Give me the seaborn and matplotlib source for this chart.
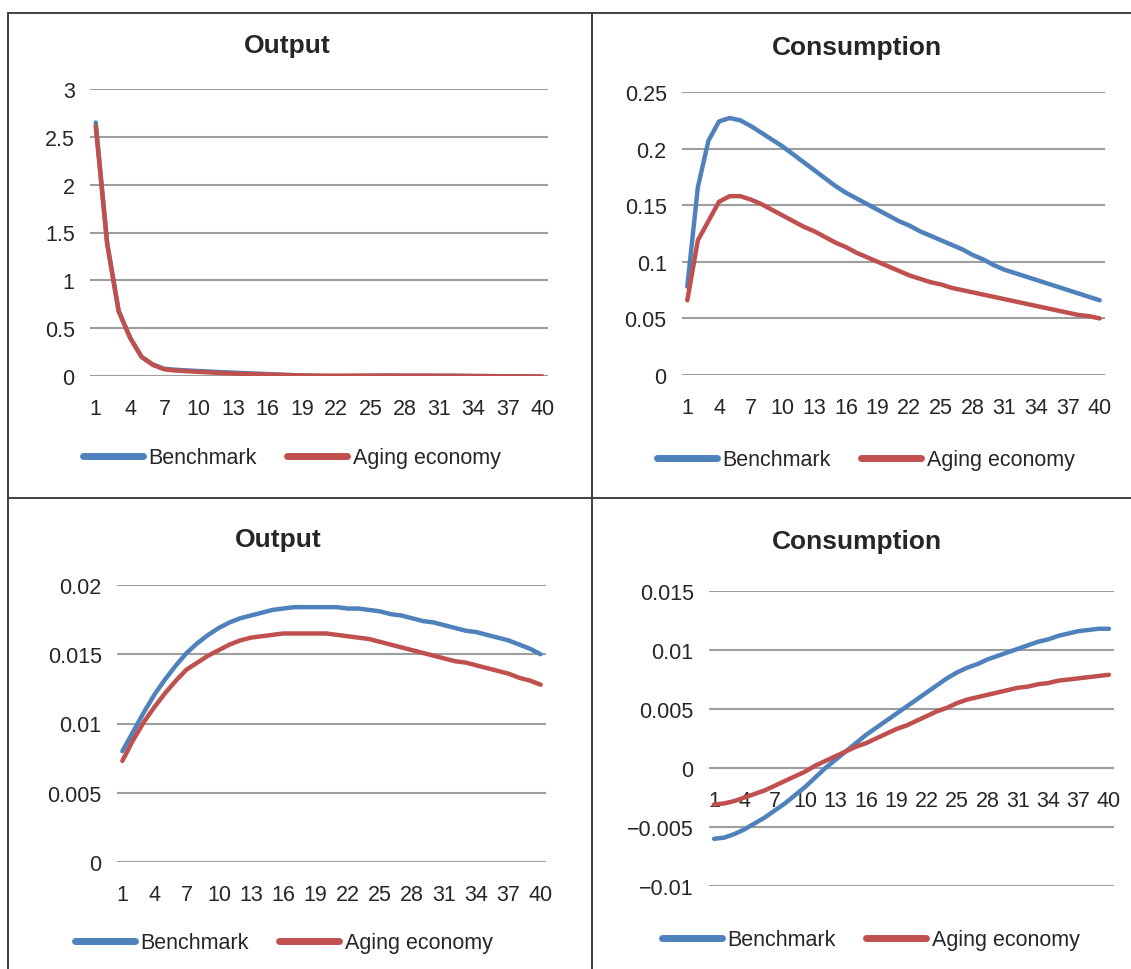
import numpy as np
import pandas as pd
import seaborn as sns
import matplotlib as mpl
from matplotlib import pyplot as plt
from matplotlib.lines import Line2D

sns.set_theme(style="white")
plt.rcParams["font.family"] = ["Liberation Sans", "DejaVu Sans"]

BLUE = "#4F81BD"
RED = "#C0504D"
GRID = "#9E9E9E"
TEXT = "#262626"

PERIODS = list(range(1, 41))
X_TICKS = list(range(1, 41, 3))
SERIES = ["Benchmark", "Aging economy"]

# top left: Output
output_top_bench = [2.65, 1.39, 0.68, 0.40, 0.20, 0.12, 0.075, 0.065, 0.058, 0.052,
                    0.046, 0.040, 0.035, 0.030, 0.025, 0.020, 0.015, 0.010, 0.005, 0.000,
                    -0.003, -0.003, -0.002, 0.000, 0.002, 0.003, 0.003, 0.003, 0.003, 0.003,
                    0.002, 0.002, 0.001, 0.000, -0.001, -0.002, -0.003, -0.004, -0.005, -0.006]
output_top_aging = [2.61, 1.38, 0.68, 0.40, 0.20, 0.115, 0.070, 0.057, 0.050, 0.043,
                    0.037, 0.031, 0.026, 0.022, 0.018, 0.015, 0.012, 0.009, 0.007, 0.005,
                    0.004, 0.004, 0.004, 0.004, 0.004, 0.004, 0.004, 0.003, 0.003, 0.003,
                    0.002, 0.002, 0.001, 0.000, -0.001, -0.002, -0.003, -0.004, -0.004, -0.005]

# top right: Consumption
cons_top_bench = [0.078, 0.166, 0.207, 0.224, 0.227, 0.225, 0.220, 0.214, 0.208, 0.202,
                  0.195, 0.188, 0.181, 0.174, 0.167, 0.161, 0.156, 0.151, 0.146, 0.141,
                  0.136, 0.132, 0.127, 0.123, 0.119, 0.115, 0.111, 0.106, 0.102, 0.097,
                  0.093, 0.090, 0.087, 0.084, 0.081, 0.078, 0.075, 0.072, 0.069, 0.066]
cons_top_aging = [0.066, 0.119, 0.136, 0.153, 0.158, 0.158, 0.155, 0.151, 0.146, 0.141,
                  0.136, 0.131, 0.127, 0.122, 0.117, 0.113, 0.108, 0.104, 0.100, 0.096,
                  0.092, 0.088, 0.085, 0.082, 0.080, 0.077, 0.075, 0.073, 0.071, 0.069,
                  0.067, 0.065, 0.063, 0.061, 0.059, 0.057, 0.055, 0.053, 0.052, 0.050]

# bottom left: Output
output_bot_bench = [0.0080, 0.0094, 0.0108, 0.0121, 0.0132, 0.0142, 0.0151, 0.0158, 0.0164, 0.0169,
                    0.0173, 0.0176, 0.0178, 0.0180, 0.0182, 0.0183, 0.0184, 0.0184, 0.0184, 0.0184,
                    0.0184, 0.0183, 0.0183, 0.0182, 0.0181, 0.0179, 0.0178, 0.0176, 0.0174, 0.0173,
                    0.0171, 0.0169, 0.0167, 0.0166, 0.0164, 0.0162, 0.0160, 0.0157, 0.0154, 0.0150]
output_bot_aging = [0.0073, 0.0088, 0.0101, 0.0112, 0.0122, 0.0131, 0.0139, 0.0144, 0.0149, 0.0153,
                    0.0157, 0.0160, 0.0162, 0.0163, 0.0164, 0.0165, 0.0165, 0.0165, 0.0165, 0.0165,
                    0.0164, 0.0163, 0.0162, 0.0161, 0.0159, 0.0157, 0.0155, 0.0153, 0.0151, 0.0149,
                    0.0147, 0.0145, 0.0144, 0.0142, 0.0140, 0.0138, 0.0136, 0.0133, 0.0131, 0.0128]

# bottom right: Consumption
cons_bot_bench = [-0.0060, -0.0059, -0.0056, -0.0052, -0.0047, -0.0042, -0.0036, -0.0030, -0.0023, -0.0016,
                  -0.0008, 0.0000, 0.0007, 0.0014, 0.0021, 0.0028, 0.0034, 0.0040, 0.0046, 0.0052,
                  0.0058, 0.0064, 0.0070, 0.0076, 0.0081, 0.0085, 0.0088, 0.0092, 0.0095, 0.0098,
                  0.0101, 0.0104, 0.0107, 0.0109, 0.0112, 0.0114, 0.0116, 0.0117, 0.0118, 0.0118]
cons_bot_aging = [-0.0031, -0.0030, -0.0028, -0.0025, -0.0022, -0.0019, -0.0015, -0.0011, -0.0007, -0.0003,
                  0.0002, 0.0006, 0.0010, 0.0014, 0.0018, 0.0021, 0.0025, 0.0029, 0.0033, 0.0036,
                  0.0040, 0.0044, 0.0048, 0.0051, 0.0055, 0.0058, 0.0060, 0.0062, 0.0064, 0.0066,
                  0.0068, 0.0069, 0.0071, 0.0072, 0.0074, 0.0075, 0.0076, 0.0077, 0.0078, 0.0079]

yticks_tl = [0, 0.5, 1, 1.5, 2, 2.5, 3]
yticks_tr = [0, 0.05, 0.1, 0.15, 0.2, 0.25]
yticks_bl = [0, 0.005, 0.01, 0.015, 0.02]
yticks_br = [-0.01, -0.005, 0, 0.005, 0.01, 0.015]

W, H = 1131, 970
fig = plt.figure(figsize=(W / 100, H / 100), dpi=100)


def px_axes(x0, x1, ytop, ybot):
    return fig.add_axes([x0 / W, 1 - ybot / H, (x1 - x0) / W, (ybot - ytop) / H])


def fmt(v):
    return f"{v:g}".replace("-", "\u2212")


panels = [
    # title, bench, aging, yticks, axes box (px), title pos, legend pos, x labels at zero
    ("Output", output_top_bench, output_top_aging, yticks_tl,
     (90, 548, 90, 377), (287, 46), (83, 459), False),
    ("Consumption", cons_top_bench, cons_top_aging, yticks_tr,
     (682, 1105, 93, 376), (857, 48), (657, 461), False),
    ("Output", output_bot_bench, output_bot_aging, yticks_bl,
     (117, 546, 586, 863), (278, 540), (75, 944), False),
    ("Consumption", cons_bot_bench, cons_bot_aging, yticks_br,
     (709, 1114, 592, 887), (857, 542), (662, 941), True),
]

for title, bench, aging, yticks, box, tpos, lpos, at_zero in panels:
    ax = px_axes(*box)
    df = pd.DataFrame({
        "t": PERIODS * 2,
        "value": bench + aging,
        "Series": [SERIES[0]] * 40 + [SERIES[1]] * 40,
    })
    sns.lineplot(data=df, x="t", y="value", hue="Series", hue_order=SERIES,
                 palette=[BLUE, RED], linewidth=3.2, legend=False, ax=ax,
                 solid_capstyle="round", solid_joinstyle="round", zorder=3)
    ax.set_xlim(0.5, 40.5)
    ax.set_ylim(yticks[0], yticks[-1])
    ax.set_yticks(yticks)
    ax.set_yticklabels([fmt(v) for v in yticks])
    ax.set_xticks(X_TICKS)
    ax.set_xticklabels([str(v) for v in X_TICKS])
    ax.set_xlabel("")
    ax.set_ylabel("")
    ax.grid(axis="y", color=GRID, linewidth=1.5)
    ax.grid(axis="x", visible=False)
    for s in ax.spines.values():
        s.set_color("none")
    if at_zero:
        ax.spines["bottom"].set_position(("data", 0))
    ax.tick_params(axis="both", length=0, labelsize=15.5, colors=TEXT)
    ax.tick_params(axis="y", pad=11)
    ax.tick_params(axis="x", pad=16)

    fig.text(tpos[0] / W, 1 - tpos[1] / H, title, ha="center", va="center",
             fontsize=19, fontweight="bold", color=TEXT)

    handles = [Line2D([], [], color=BLUE, lw=5, solid_capstyle="round"),
               Line2D([], [], color=RED, lw=5, solid_capstyle="round")]
    ax.legend(handles, SERIES, loc="center left",
              bbox_to_anchor=(lpos[0] / W, 1 - lpos[1] / H),
              bbox_transform=fig.transFigure, ncol=2, frameon=False,
              fontsize=15.5, handlelength=2.8, handletextpad=0.25,
              columnspacing=1.4, borderpad=0, borderaxespad=0,
              labelcolor=TEXT)

# panel frame lines
frame = dict(color="#404040", linewidth=1.4, transform=fig.transFigure)
fig.add_artist(Line2D([8 / W, 1], [1 - 14 / H] * 2, **frame))
fig.add_artist(Line2D([8 / W] * 2, [0, 1 - 14 / H], **frame))
fig.add_artist(Line2D([592 / W] * 2, [0, 1 - 14 / H], **frame))
fig.add_artist(Line2D([8 / W, 1], [1 - 499 / H] * 2, **frame))

fig.savefig("out.png", dpi=100)
